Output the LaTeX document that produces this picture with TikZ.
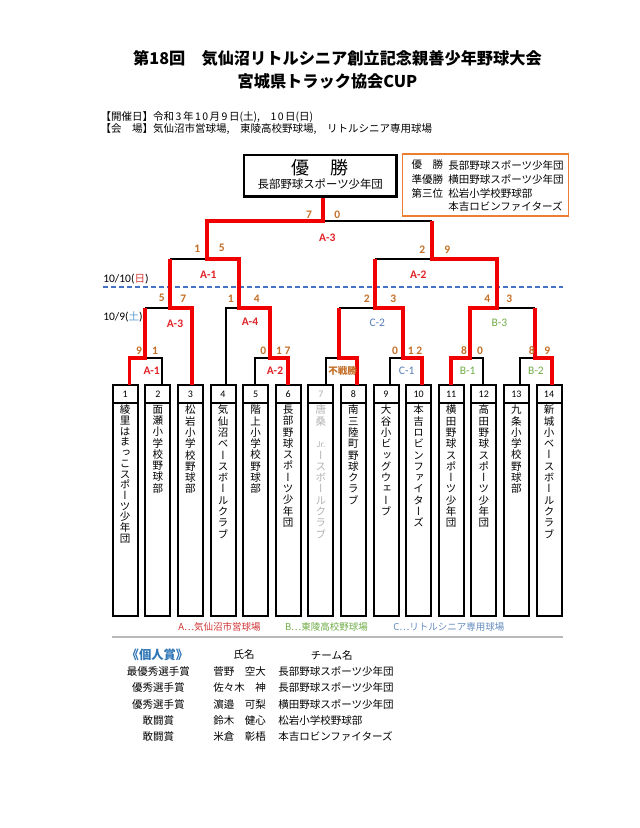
\documentclass[tikz,border=0pt]{standalone}
\usepackage{fontspec}
\setmainfont{Noto Sans CJK JP}
\newfontfamily\jpn{Noto Sans CJK JP}
\newfontfamily\jpv[RawFeature={+vert}]{Noto Sans CJK JP}
\newfontfamily\calfont{Carlito}
\newcommand\myfs[1]{\fontsize{#1}{#1}\selectfont}
\ExplSyntaxOn
\NewDocumentCommand\vtext{m}{\tl_map_inline:nn {#1}{##1\\}}
\ExplSyntaxOff
\definecolor{winred}{RGB}{240,0,0}
\definecolor{labred}{RGB}{225,35,40}
\definecolor{scorec}{RGB}{196,112,40}
\definecolor{orangeb}{RGB}{237,125,49}
\definecolor{dashc}{RGB}{68,114,196}
\definecolor{cblue}{RGB}{85,125,185}
\definecolor{bgreen}{RGB}{112,173,71}
\definecolor{satblue}{RGB}{91,155,213}
\definecolor{sunred}{RGB}{215,60,60}
\definecolor{legA}{RGB}{210,50,50}
\definecolor{legC}{RGB}{100,140,190}
\definecolor{awardblue}{RGB}{46,117,182}
\tikzset{
  win/.style={draw=winred, line width=3.8pt},
  lose/.style={draw=black, line width=2.2pt},
  txt/.style={inner sep=0pt, outer sep=0pt},
  score/.style={txt, font=\calfont\bfseries\myfs{11.5}, text=scorec},
  mlab/.style={txt, font=\calfont\bfseries\myfs{11.5}, text=labred},
  clab/.style={txt, font=\calfont\myfs{11.5}, text=cblue},
  blab/.style={txt, font=\calfont\myfs{11.5}, text=bgreen},
  numbox/.style={draw, line width=2pt, minimum width=25pt, minimum height=18pt, inner sep=0pt, font=\calfont\myfs{10}},
  namebox/.style={draw, line width=2pt, minimum width=25pt, minimum height=213pt, inner sep=0pt},
  vname/.style={txt, anchor=north, align=center, font=\jpv\fontsize{10.5}{11.3}\selectfont},
  datelab/.style={txt, anchor=west, font=\calfont\myfs{11.5}},
  legend/.style={txt, anchor=west, font=\myfs{9.5}},
  award/.style={txt, font=\myfs{10.5}},
}
\begin{document}
\begin{tikzpicture}[x=1pt,y=-1pt]
\fill[white] (0,0) rectangle (640,828);
\useasboundingbox (0,0) rectangle (640,828);

% titles
\node[txt, font=\bfseries\myfs{16.2}] (title1) at (337.5,58.3) {第18回　気仙沼リトルシニア創立記念親善少年野球大会};
\node[txt, font=\bfseries\myfs{16.2}] (title2) at (327.5,81.7) {宮城県トラック協会CUP};
\node[txt, anchor=west, font=\myfs{10.5}] (info1) at (100.7,116.7) {【開催日】令和\hspace{1.5pt}3\hspace{1.5pt}年\hspace{1.5pt}1\hspace{1.5pt}0\hspace{1.5pt}月\hspace{1.5pt}9\hspace{1.5pt}日(土),　1\hspace{1.5pt}0\hspace{1.5pt}日(日)};
\node[txt, anchor=west, font=\myfs{10.5}] (info2) at (100.7,129.3) {【会　場】気仙沼市営球場,　東陵高校野球場,　リトルシニア専用球場};

% champion box
\node[draw, line width=2.8pt, minimum width=152.7pt, minimum height=41.7pt, inner sep=0pt] (champ) at (320.3,175.9) {};
\node[txt, font=\myfs{18}] (champt) at (320.3,167.3) {優\hspace{21pt}勝};
\node[txt, font=\myfs{11.4}] (champn) at (320.3,184.3) {長部野球スポーツ少年団};

% results box
\node[draw=orangeb, line width=1.5pt, minimum width=165.6pt, minimum height=62pt, inner sep=0pt] (res) at (485.5,185) {};
\node[txt, anchor=west, font=\myfs{10.5}] (r1a) at (411.7,165) {優　勝};
\node[txt, anchor=west, font=\myfs{10.5}] (r1b) at (448.3,165) {長部野球スポーツ少年団};
\node[txt, anchor=west, font=\myfs{10.5}] (r2a) at (411.7,179.3) {準優勝};
\node[txt, anchor=west, font=\myfs{10.5}] (r2b) at (448.3,179.3) {横田野球スポーツ少年団};
\node[txt, anchor=west, font=\myfs{10.5}] (r3a) at (411.7,193.3) {第三位};
\node[txt, anchor=west, font=\myfs{10.5}] (r3b) at (448.3,193.3) {松岩小学校野球部};
\node[txt, anchor=west, font=\myfs{10.5}] (r4b) at (448.3,206.7) {本吉ロビンファイターズ};

% date labels and dashed line
\node[datelab] (d10) at (103.3,279.3) {10/10(\textcolor{sunred}{\jpn\myfs{10.5}日})};
\node[datelab] (d9) at (103.3,316.7) {10/9(\textcolor{satblue}{\jpn\myfs{10.5}土})};
\coordinate (dl1) at (103,286.7);
\coordinate (dl2) at (563,286.7);
\draw[dashc, line width=1.6pt, dash pattern=on 5pt off 3pt] (dl1) -- (dl2);

% team boxes
\foreach \i/\xc in {1/125.2,2/157.8,3/190.4,4/223.0,5/255.6,6/288.2,7/320.8,8/353.4,9/386.0,10/418.6,11/451.2,12/483.8,13/516.4,14/549.0}{
  \node[namebox] (t\i) at (\xc,509.5) {};
}
\foreach \i/\xc in {1/125.2,2/157.8,3/190.4,4/223.0,5/255.6,6/288.2,8/353.4,9/386.0,10/418.6,11/451.2,12/483.8,13/516.4,14/549.0}{
  \node[numbox] (n\i) at (\xc,394) {\i};
}
\node[numbox, text=gray!60] (n7) at (320.8,394) {7};
\node[vname, font=\jpv\fontsize{10.5}{10.7}\selectfont] (v1) at (125.2,405) {\vtext{綾里はまっこスポーツ少年団}};
\node[vname] (v2) at (157.8,405) {\vtext{面瀬小学校野球部}};
\node[vname] (v3) at (190.4,405) {\vtext{松岩小学校野球部}};
\node[vname] (v4) at (223.0,405) {\vtext{気仙沼ベースボールクラブ}};
\node[vname] (v5) at (255.6,405) {\vtext{階上小学校野球部}};
\node[vname] (v6) at (288.2,405) {\vtext{長部野球スポーツ少年団}};
\node[vname, text=gray!60] (v7) at (320.8,405) {\vtext{唐桑　{\myfs{8}Jr.}ースボールクラブ}};
\node[vname] (v8) at (353.4,405) {\vtext{南三陸町野球クラブ}};
\node[vname] (v9) at (386.0,405) {\vtext{大谷小ビッグウェーブ}};
\node[vname] (v10) at (418.6,405) {\vtext{本吉ロビンファイターズ}};
\node[vname] (v11) at (451.2,405) {\vtext{横田野球スポーツ少年団}};
\node[vname] (v12) at (483.8,405) {\vtext{高田野球スポーツ少年団}};
\node[vname] (v13) at (516.4,405) {\vtext{九条小学校野球部}};
\node[vname] (v14) at (549.0,405) {\vtext{新城小ベースボールクラブ}};

% bracket coordinates
\foreach \i/\xx in {1/129.5,2/161.7,3/191.7,4/226,5/255,6/288,7/325.7,8/356.7,9/390,10/421.7,11/451,12/483,13/520,14/551.7}{
  \coordinate (p\i) at (\xx,385);
}
\coordinate (m1) at (145,358);
\coordinate (m2) at (270,358);
\coordinate (m3) at (339.3,358);
\coordinate (m4) at (402.7,358);
\coordinate (m5) at (470,358);
\coordinate (m6) at (535,358);
\coordinate (r1) at (170,307.7);
\coordinate (r2) at (239,307.7);
\coordinate (r3) at (375,307.7);
\coordinate (r4) at (497.3,307.7);
\coordinate (s1) at (206.7,259.3);
\coordinate (s2) at (431.7,259.3);
\coordinate (fin) at (323.3,221);

% losing halves
\draw[lose] (p2) -- (p2|-m1) -- (m1);
\draw[lose] (m1|-r1) -- (r1);
\draw[lose] (p5) -- (p5|-m2) -- (m2);
\draw[lose] (p4) -- (p4|-r2) -- (r2);
\draw[lose] (r1|-s1) -- (s1);
\draw[lose] (p7) -- (p7|-m3) -- (m3);
\draw[lose] (m3|-r3) -- (r3);
\draw[lose] (p9) -- (p9|-m4) -- (m4);
\draw[lose] (r3|-s2) -- (s2);
\draw[lose] (p12) -- (p12|-m5) -- (m5);
\draw[lose] (p13) -- (p13|-m6) -- (m6);
\draw[lose] (m6|-r4) -- (r4);
\draw[lose] (s2|-fin) -- (fin);

% winning paths
\draw[win] (p1) -- (p1|-m1) -- (m1) -- (m1|-r1);
\draw[win] (p3) -- (p3|-r1) -- (r1) -- (r1|-s1);
\draw[win] (p6) -- (p6|-m2) -- (m2) -- (m2|-r2) -- (r2) -- (r2|-s1) -- (s1) -- (s1|-fin) -- (fin) -- (fin|-champ.south);
\draw[win] (p8) -- (p8|-m3) -- (m3) -- (m3|-r3);
\draw[win] (p10) -- (p10|-m4) -- (m4) -- (m4|-r3) -- (r3) -- (r3|-s2);
\draw[win] (p11) -- (p11|-m5) -- (m5) -- (m5|-r4) -- (r4) -- (r4|-s2) -- (s2) -- (s2|-fin);
\draw[win] (p14) -- (p14|-m6) -- (m6) -- (m6|-r4);

% scores and match labels
\node[score] (f1) at (309,215) {7};
\node[score] (f2) at (337.3,215) {0};
\node[mlab] (fl) at (327.3,237.7) {A-3};
\node[score] (sa1) at (197.3,248.3) {1};
\node[score] (sa2) at (221.7,248.3) {5};
\node[mlab] (sal) at (208.3,275) {A-1};
\node[score] (sb1) at (422.3,250) {2};
\node[score] (sb2) at (447.3,250) {9};
\node[mlab] (sbl) at (418.3,275) {A-2};
\node[score] (ra1) at (161.7,298.3) {5};
\node[score] (ra2) at (183.3,298.3) {7};
\node[mlab] (ral) at (175,323.3) {A-3};
\node[score] (rb1) at (230.7,298.3) {1};
\node[score] (rb2) at (256.7,298.3) {4};
\node[mlab] (rbl) at (250,321.7) {A-4};
\node[score] (rc1) at (366.7,298.3) {2};
\node[score] (rc2) at (393.3,298.3) {3};
\node[clab] (rcl) at (377.3,323.3) {C-2};
\node[score] (rd1) at (487.3,298.3) {4};
\node[score] (rd2) at (509.3,298.3) {3};
\node[blab] (rdl) at (499.3,323.3) {B-3};
\node[score] (ma1) at (139,350.7) {9};
\node[score] (ma2) at (155,350.7) {1};
\node[mlab] (mal) at (151.7,371) {A-1};
\node[score] (mb1) at (263.3,350.7) {0};
\node[score] (mb2) at (283.3,350.7) {1\hspace{2.5pt}7};
\node[mlab] (mbl) at (275,371) {A-2};
\node[txt, font=\bfseries\myfs{9.5}, text=scorec] (mcl) at (342.7,371) {不戦勝};
\node[score] (md1) at (395,350.7) {0};
\node[score] (md2) at (415,350.7) {1\hspace{2.5pt}2};
\node[clab] (mdl) at (406.7,371) {C-1};
\node[score] (me1) at (464,350.7) {8};
\node[score] (me2) at (480,350.7) {0};
\node[blab] (mel) at (467.7,371) {B-1};
\node[score] (mf1) at (531.7,350.7) {8};
\node[score] (mf2) at (547.3,350.7) {9};
\node[blab] (mfl) at (536,371) {B-2};

% legend
\node[legend, text=legA] (legA) at (178.3,626.7) {A…気仙沼市営球場};
\node[legend, text=bgreen] (legB) at (285,626.7) {B…東陵高校野球場};
\node[legend, text=legC] (legC) at (393.3,626.7) {C…リトルシニア専用球場};
\coordinate (sep1) at (112,637);
\coordinate (sep2) at (563,637);
\draw[gray!55, line width=1.3pt] (sep1) -- (sep2);

% awards
\node[txt, anchor=west, font=\bfseries\myfs{12.3}, text=awardblue] (ah) at (126.7,655) {《個人賞》};
\node[award] (ah2) at (244,655) {氏名};
\node[award] (ah3) at (331.7,655) {チーム名};
\node[award] (a1a) at (158.3,671.7) {最優秀選手賞};
\node[award, anchor=west] (a1b) at (213.3,671.7) {菅野　空大};
\node[award, anchor=west] (a1c) at (278.3,671.7) {長部野球スポーツ少年団};
\node[award] (a2a) at (158.3,687.9) {優秀選手賞};
\node[award, anchor=west] (a2b) at (213.3,687.9) {佐々木　神};
\node[award, anchor=west] (a2c) at (278.3,687.9) {長部野球スポーツ少年団};
\node[award] (a3a) at (158.3,704.1) {優秀選手賞};
\node[award, anchor=west] (a3b) at (213.3,704.1) {濵邉　可梨};
\node[award, anchor=west] (a3c) at (278.3,704.1) {横田野球スポーツ少年団};
\node[award] (a4a) at (158.3,720.3) {敢闘賞};
\node[award, anchor=west] (a4b) at (213.3,720.3) {鈴木　健心};
\node[award, anchor=west] (a4c) at (278.3,720.3) {松岩小学校野球部};
\node[award] (a5a) at (158.3,736.5) {敢闘賞};
\node[award, anchor=west] (a5b) at (213.3,736.5) {米倉　彰梧};
\node[award, anchor=west] (a5c) at (278.3,736.5) {本吉ロビンファイターズ};
\end{tikzpicture}
\end{document}
